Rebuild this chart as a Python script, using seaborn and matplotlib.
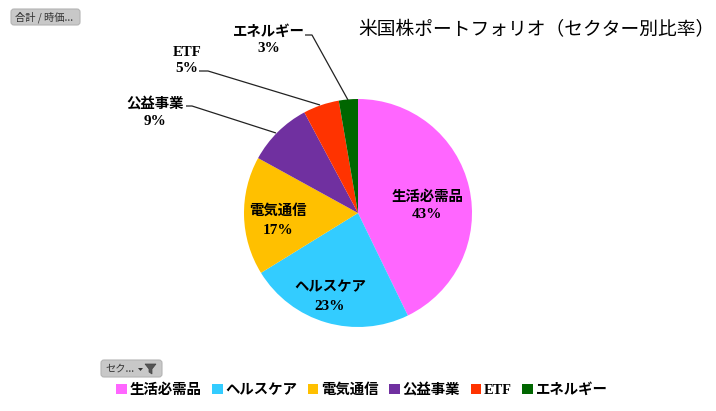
import matplotlib
matplotlib.use('Agg')
import matplotlib.pyplot as plt
import seaborn as sns
from matplotlib.patches import FancyBboxPatch, Patch, Polygon

# データ
sectors = ['生活必需品', 'ヘルスケア', '電気通信', '公益事業', 'ETF', 'エネルギー']
shares = [42.8, 23.4, 16.8, 9.2, 5.1, 2.7]
colors = ['#FF66FF', '#33CCFF', '#FFC000', '#7030A0', '#FF3300', '#006600']
title = '米国株ポートフォリオ（セクター別比率）'

sns.set_theme(style='white')
plt.rcParams['font.family'] = ['Liberation Serif', 'Noto Sans CJK JP', 'DejaVu Sans']
sans = ['Noto Sans CJK JP', 'DejaVu Sans']

fig = plt.figure(figsize=(7.16, 4.11), dpi=100)
ax = fig.add_axes([0, 0, 1, 1])  # 座標はピクセルに合わせる

# 円グラフ（y軸反転なので counterclock=True で時計回りになる）
ax.pie(shares, colors=sns.color_palette(colors), center=(358, 213), radius=114,
       startangle=-90, counterclock=True, wedgeprops={'linewidth': 0})
ax.set_xlim(0, 716)
ax.set_ylim(411, 0)
ax.set_aspect('equal')
ax.axis('off')

# データラベル（名前と%は別々に置く、%の方が少し大きい）
name_pos = [(427, 197), (330, 288), (278, 211), (155, 104), (187, 52), (269, 32)]
pct_pos = [(427, 214), (330, 306), (278, 230), (155, 121), (187, 68), (269, 48)]
for name, v, p1, p2 in zip(sectors, shares, name_pos, pct_pos):
    ax.text(p1[0], p1[1], name, ha='center', va='center', fontsize=10.6 if name == 'ETF' else 10.4,
            fontweight='bold', color='black')
    ax.text(p2[0], p2[1], f'{v:.0f}%', ha='center', va='center', fontsize=11,
            fontweight='bold', color='black')

# 引き出し線
leaders = [([186, 192, 276], [106, 106, 133]),
           ([199, 208, 320], [71, 71, 105]),
           ([305, 312, 348], [35, 35, 100])]
for xs, ys in leaders:
    ax.plot(xs, ys, color='#222222', lw=0.9, solid_capstyle='butt')

ax.text(536, 30, title, ha='center', va='center', fontsize=13.5, family=sans, color='black')

# ピボットのフィールドボタン
def button(x, y, w, h, text):
    ax.add_patch(FancyBboxPatch((x + 2, y + 2), w - 4, h - 4, boxstyle='round,pad=2,rounding_size=3',
                                fc='#C8C8C8', ec='#B4B4B4', lw=0.8))
    ax.text(x + 4, y + h / 2, text, ha='left', va='center', fontsize=7.4, family=sans, color='#333333')

button(11, 9, 69, 16, '合計 / 時価...')
button(101, 360, 61, 17, 'セク...')
ax.add_patch(Polygon([(145, 364), (156, 364), (152, 369), (152, 374), (149, 372), (149, 369)],
                     closed=True, fc='#555555', ec='#444444', lw=0.5))
ax.add_patch(Polygon([(138, 368), (143, 368), (140.5, 371)], closed=True, fc='#333333', ec='none'))

# 凡例
handles = [Patch(facecolor=c, edgecolor='none') for c in colors]
ax.legend(handles, sectors, ncol=6, loc='center', bbox_to_anchor=(362 / 716, 1 - 390 / 411),
          frameon=False, prop={'weight': 'bold', 'size': 10.4}, labelcolor='black',
          handlelength=0.72, handleheight=0.72, handletextpad=0.2, columnspacing=0.73, borderpad=0)

fig.savefig('out.png', dpi=100, facecolor='white')
